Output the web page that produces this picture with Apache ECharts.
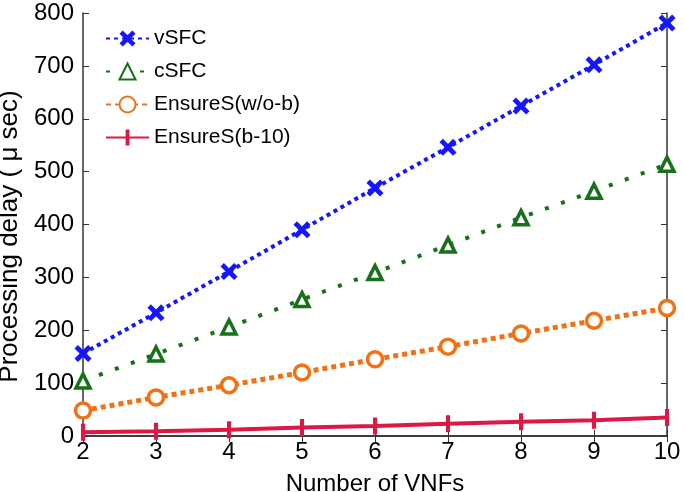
<!DOCTYPE html>
<html>
<head>
<meta charset="utf-8">
<script src="https://cdn.jsdelivr.net/npm/echarts@6/dist/echarts.min.js"></script>
<style>
  html, body { margin: 0; padding: 0; background: #fff; }
  #chart { width: 685px; height: 492px; }
</style>
</head>
<body>
<div id="chart"></div>
<script>
// data
const vnfs = [2, 3, 4, 5, 6, 7, 8, 9, 10];
const vSFC = [156, 233, 311, 390, 469, 546, 624, 702, 781];
const cSFC = [104, 155, 206, 258, 309, 361, 413, 463, 514];
const ensureWob = [48, 73, 96, 120, 145, 169, 194, 218, 242];
const ensureB10 = [7, 9, 12, 16, 19, 23, 27, 30, 35];

const FONT = 'Liberation Sans';

function pairs(ys) {
    return vnfs.map((x, i) => [x, ys[i]]);
}

const crossPath = 'path://M2,0 L5,3 L8,0 L10,2 L7,5 L10,8 L8,10 L5,7 L2,10 L0,8 L3,5 L0,2 Z';
// square box so the legend keeps the bar shape
const barPath = 'path://M0,0 L0,0 Z M3.8,0 L6.2,0 L6.2,10 L3.8,10 Z M10,10 L10,10 Z';

const chart = echarts.init(document.getElementById('chart'));

const axisLine = { show: true, lineStyle: { color: '#333', width: 1.5 } };
const tick = { inside: true, length: 6, lineStyle: { color: '#333' } };

const option = {
    animation: false,
    grid: { left: 83, right: 18, top: 13, bottom: 56, outerBoundsMode: 'none' },
    legend: {
        left: 100,
        top: 23,
        orient: 'vertical',
        itemWidth: 43,
        itemHeight: 20,
        itemGap: 12,
        textStyle: { fontFamily: FONT, fontSize: 21, color: '#000' },
        data: ['vSFC', 'cSFC', 'EnsureS(w/o-b)', 'EnsureS(b-10)']
    },
    xAxis: [{
        type: 'value',
        min: 2, max: 10, interval: 1,
        name: 'Number of VNFs',
        nameLocation: 'middle',
        nameGap: 36,
        nameTextStyle: { fontFamily: FONT, fontSize: 24, color: '#000' },
        axisLine,
        axisTick: tick,
        axisLabel: { fontFamily: FONT, fontSize: 24, color: '#000', margin: 4 },
        splitLine: { show: false }
    }, {
        type: 'value', position: 'top',
        min: 2, max: 10, interval: 1,
        axisLine,
        axisTick: tick,
        axisLabel: { show: false },
        splitLine: { show: false }
    }],
    yAxis: [{
        type: 'value',
        min: 0, max: 800, interval: 100,
        name: 'Processing delay ( μ sec)',
        nameLocation: 'middle',
        nameGap: 55,
        nameTextStyle: { fontFamily: FONT, fontSize: 26, color: '#000', padding: [0, 24, 0, 0] },
        axisLine,
        axisTick: tick,
        axisLabel: { fontFamily: FONT, fontSize: 24, color: '#000', margin: 9 },
        splitLine: { show: false }
    }, {
        type: 'value', position: 'right',
        min: 0, max: 800, interval: 100,
        axisLine,
        axisTick: tick,
        axisLabel: { show: false },
        splitLine: { show: false }
    }],
    series: [{
        name: 'vSFC',
        type: 'line',
        data: pairs(vSFC),
        symbol: crossPath,
        symbolSize: 17,
        itemStyle: { color: '#1515ff' },
        lineStyle: { color: '#1515ff', width: 4, type: [4, 4] },
        z: 4
    }, {
        name: 'cSFC',
        type: 'line',
        data: pairs(cSFC),
        symbol: 'triangle',
        symbolSize: 14,
        itemStyle: { color: '#fff', borderColor: '#17701a', borderWidth: 3.5 },
        lineStyle: { color: '#17701a', width: 4, type: [4, 13] },
        z: 3
    }, {
        name: 'EnsureS(w/o-b)',
        type: 'line',
        data: pairs(ensureWob),
        symbol: 'circle',
        symbolSize: 15,
        itemStyle: { color: '#fff', borderColor: '#f47014', borderWidth: 3.5 },
        lineStyle: { color: '#f47014', width: 5, type: [5, 4] },
        z: 2
    }, {
        name: 'EnsureS(b-10)',
        type: 'line',
        data: pairs(ensureB10),
        symbol: barPath,
        symbolSize: 17,
        itemStyle: { color: '#dc1844' },
        lineStyle: { color: '#dc1844', width: 4 },
        z: 5
    }]
};

chart.setOption(option);
</script>
</body>
</html>
